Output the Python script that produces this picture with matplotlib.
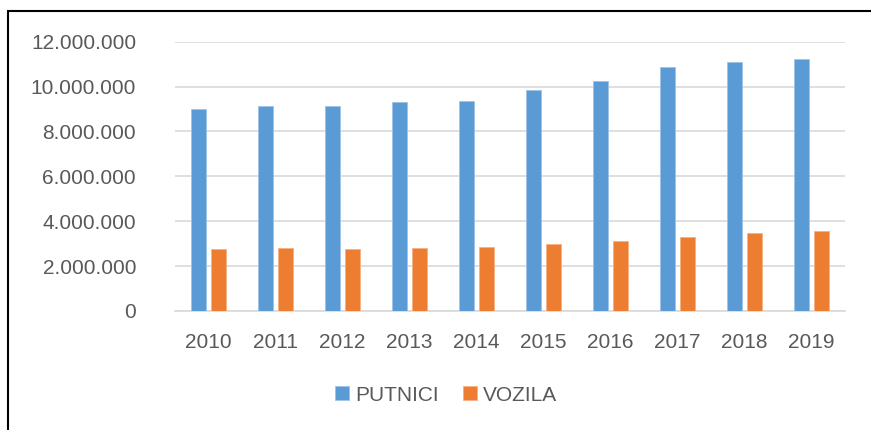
import numpy as np
import matplotlib.pyplot as plt
from matplotlib.patches import Rectangle
from matplotlib.ticker import FuncFormatter

plt.rcParams['font.family'] = ['Liberation Sans', 'DejaVu Sans']

godine = ['2010', '2011', '2012', '2013', '2014', '2015', '2016', '2017', '2018', '2019']
putnici = [8990000, 9130000, 9150000, 9330000, 9360000, 9850000, 10240000, 10890000, 11110000, 11220000]
vozila = [2750000, 2810000, 2760000, 2790000, 2840000, 3000000, 3100000, 3300000, 3460000, 3550000]

plava = '#5B9BD5'
narandzasta = '#ED7D31'
siva_tekst = '#595959'
siva_mreza = '#D9D9D9'

fig = plt.figure(figsize=(8.71, 4.30), dpi=100)
ax = fig.add_axes([175 / 871, 1 - 311 / 430, 670 / 871, 269.3 / 430])

x = np.arange(len(godine))
w = 0.224
razmak = 0.06
ax.bar(x - (w + razmak) / 2, putnici, w, color=plava, edgecolor='#9DC3E6', linewidth=0.6,
       label='PUTNICI', zorder=3)
ax.bar(x + (w + razmak) / 2, vozila, w, color=narandzasta, edgecolor='#F4B183', linewidth=0.6,
       label='VOZILA', zorder=3)

ax.set_xlim(-0.5, len(godine) - 0.5)
ax.set_ylim(0, 12000000)
ax.set_yticks(np.arange(0, 12000001, 2000000))
ax.yaxis.set_major_formatter(FuncFormatter(lambda v, p: f'{int(v):,}'.replace(',', '.')))
ax.set_xticks(x)
ax.set_xticklabels(godine)

ax.grid(axis='y', color=siva_mreza, linewidth=1.2, zorder=0)
for s in ['top', 'right', 'left']:
    ax.spines[s].set_visible(False)
ax.spines['bottom'].set_color(siva_mreza)
ax.spines['bottom'].set_linewidth(1.2)
ax.tick_params(axis='both', length=0, labelsize=15, colors=siva_tekst)
ax.tick_params(axis='y', pad=28)
ax.tick_params(axis='x', pad=16)

fig.legend(loc='center', bbox_to_anchor=(0.512, 0.081), ncol=2, frameon=False,
           fontsize=15, labelcolor=siva_tekst, handlelength=0.67, handleheight=0.67,
           handletextpad=0.28, columnspacing=1.15)

# okvir oko slike (desna i donja ivica izvan slike)
fig.patches.append(Rectangle((8 / 871, -0.1), 1.2, 0.1 + 1 - 11 / 430, transform=fig.transFigure,
                             fill=False, edgecolor='black', linewidth=1.5))

fig.savefig('out.png', dpi=100)
